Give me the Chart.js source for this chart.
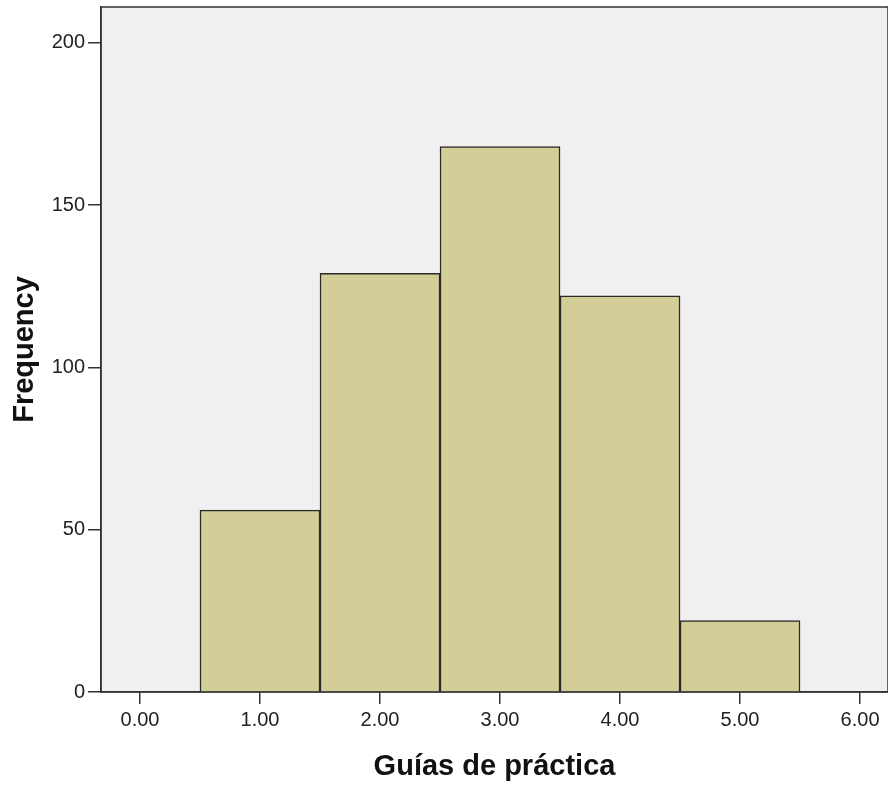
<!DOCTYPE html>
<html>
<head>
<meta charset="utf-8">
<script src="https://cdn.jsdelivr.net/npm/chart.js"></script>
<style>
  body { margin: 0; background: #fff; }
</style>
</head>
<body>
<canvas id="histChart" width="888" height="786"></canvas>
<script>
// histogram bins (midpoints) and counts
const binCenters = [1, 2, 3, 4, 5];
const frequency = [56, 129, 168, 122, 22];
const xTicks = [0, 1, 2, 3, 4, 5, 6];
const yTicks = [0, 50, 100, 150, 200];

// plot background + frame
const frame = {
  id: 'frame',
  beforeDraw(chart) {
    const { ctx, chartArea: a } = chart;
    ctx.save();
    ctx.fillStyle = '#f0f0f0';
    ctx.fillRect(a.left, a.top, a.right - a.left, a.bottom - a.top);
    ctx.strokeStyle = '#333';
    ctx.lineWidth = 1.5;
    ctx.strokeRect(a.left, a.top, a.right - a.left, a.bottom - a.top);
    ctx.restore();
  }
};

const ctx = document.getElementById('histChart').getContext('2d');
new Chart(ctx, {
  type: 'bar',
  data: {
    datasets: [{
      data: binCenters.map((c, i) => ({ x: c, y: frequency[i] })),
      backgroundColor: '#d3ce98',
      borderColor: '#2a2a2a',
      borderWidth: 1.5,
      barPercentage: 1,
      categoryPercentage: 1,
    }],
  },
  options: {
    responsive: false,
    animation: false,
    layout: { padding: { top: 7, left: 0, right: 0, bottom: 0 } },
    plugins: { legend: { display: false }, tooltip: { enabled: false } },
    scales: {
      x: {
        type: 'linear',
        offset: false,
        min: -0.325,
        max: 6.233,
        afterBuildTicks: (s) => { s.ticks = xTicks.map(v => ({ value: v })); },
        afterFit: (s) => { s.height = 94; s.paddingLeft = 0; s.paddingRight = 0; },
        ticks: {
          callback: (v) => Number(v).toFixed(2),
          color: '#222',
          font: { family: 'Liberation Sans, Arial, sans-serif', size: 20 },
          padding: 4,
          maxRotation: 0,
        },
        grid: { offset: false, drawOnChartArea: false, tickLength: 12, color: '#333', lineWidth: 1.5 },
        border: { color: '#333', width: 1.5 },
        title: {
          display: true,
          text: 'Guías de práctica',
          color: '#111',
          font: { family: 'Liberation Sans, Arial, sans-serif', size: 29, weight: 'bold' },
          padding: { top: 0, bottom: 2 },
        },
      },
      y: {
        min: 0,
        max: 211,
        afterBuildTicks: (s) => { s.ticks = yTicks.map(v => ({ value: v })); },
        afterFit: (s) => { s.width = 101; s.paddingTop = 0; s.paddingBottom = 0; },
        ticks: {
          color: '#222',
          font: { family: 'Liberation Sans, Arial, sans-serif', size: 20 },
          padding: 3,
        },
        grid: { drawOnChartArea: false, tickLength: 13, color: '#333', lineWidth: 1.5 },
        border: { color: '#333', width: 1.5 },
        title: {
          display: true,
          text: 'Frequency',
          color: '#111',
          font: { family: 'Liberation Sans, Arial, sans-serif', size: 29, weight: 'bold' },
          padding: 8,
        },
      },
    },
  },
  plugins: [frame],
});
</script>
</body>
</html>
